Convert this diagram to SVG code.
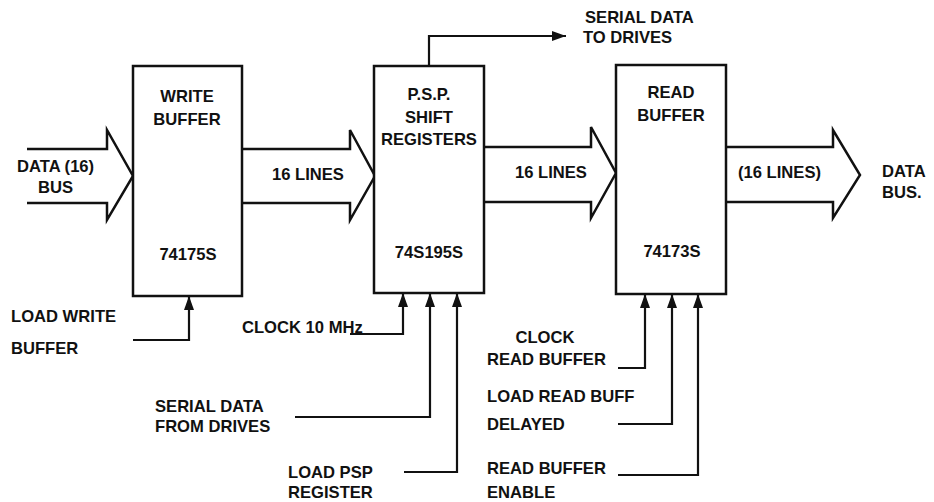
<svg xmlns="http://www.w3.org/2000/svg" width="934" height="502" viewBox="0 0 934 502">
<style>
.box{fill:#fff;stroke:#111;stroke-width:2.5}
.bus{fill:none;stroke:#111;stroke-width:2.5;stroke-linejoin:miter}
.ln{fill:none;stroke:#111;stroke-width:2.2}
text{font-family:"Liberation Sans",Arial,sans-serif;font-weight:bold;font-size:16.6px;fill:#111}
.c{text-anchor:middle}
</style>
<defs>
<marker id="ah" markerWidth="14" markerHeight="10" refX="14" refY="5" orient="auto" markerUnits="userSpaceOnUse">
<path d="M0,0 L14,5 L0,10 z" fill="#111"/>
</marker>
</defs>
<rect width="934" height="502" fill="#fff"/>
<g id="connectors">
<path class="bus" d="M27 149 H107 V130 L133 176 L107 220 V203 H27"/>
<path class="bus" d="M242 149 H350 V130 L375 176 L350 220 V203 H242"/>
<path class="bus" d="M484 147 H591 V127 L616 173 L591 218 V202 H484"/>
<path class="bus" d="M726 147 H833 V130 L860 175 L833 218 V202 H726"/>
<path class="ln" d="M429 66 V36 H566" marker-end="url(#ah)"/>
<path class="ln" d="M133 340 H189 V296" marker-end="url(#ah)"/>
<path class="ln" d="M350 334 H403 V293" marker-end="url(#ah)"/>
<path class="ln" d="M295 417 H430 V293" marker-end="url(#ah)"/>
<path class="ln" d="M404 472 H457 V293" marker-end="url(#ah)"/>
<path class="ln" d="M618 368 H645 V294" marker-end="url(#ah)"/>
<path class="ln" d="M618 424 H672 V294" marker-end="url(#ah)"/>
<path class="ln" d="M618 475 H698 V294" marker-end="url(#ah)"/>
</g>
<g id="write-buffer">
<rect class="box" x="133" y="66" width="109" height="230"/>
<text class="c" x="187" y="102">WRITE</text>
<text class="c" x="187" y="125">BUFFER</text>
<text class="c" x="188" y="260">74175S</text>
</g>
<g id="psp-shift-registers">
<rect class="box" x="374" y="66" width="110" height="227"/>
<text class="c" x="429" y="100">P.S.P.</text>
<text class="c" x="429" y="123">SHIFT</text>
<text class="c" x="429" y="145">REGISTERS</text>
<text class="c" x="429" y="258">74S195S</text>
</g>
<g id="read-buffer">
<rect class="box" x="616" y="65" width="110" height="229"/>
<text class="c" x="671" y="98">READ</text>
<text class="c" x="671" y="121">BUFFER</text>
<text class="c" x="672" y="257">74173S</text>
</g>
<g id="labels">
<text x="17" y="172">DATA (16)</text>
<text x="38" y="193">BUS</text>
<text x="272" y="180">16 LINES</text>
<text x="515" y="178">16 LINES</text>
<text x="738" y="178">(16 LINES)</text>
<text x="882" y="177">DATA</text>
<text x="882" y="198">BUS.</text>
<text x="585" y="23">SERIAL DATA</text>
<text x="583" y="43">TO DRIVES</text>
<text x="11" y="322">LOAD WRITE</text>
<text x="11" y="354">BUFFER</text>
<text x="242" y="333">CLOCK 10 MHz</text>
<text x="155" y="412">SERIAL DATA</text>
<text x="155" y="432">FROM DRIVES</text>
<text x="288" y="478">LOAD PSP</text>
<text x="288" y="498">REGISTER</text>
<text class="c" x="545" y="343">CLOCK</text>
<text x="487" y="365">READ BUFFER</text>
<text x="487" y="402">LOAD READ BUFF</text>
<text x="487" y="430">DELAYED</text>
<text x="487" y="474">READ BUFFER</text>
<text x="487" y="498">ENABLE</text>
</g>
</svg>
